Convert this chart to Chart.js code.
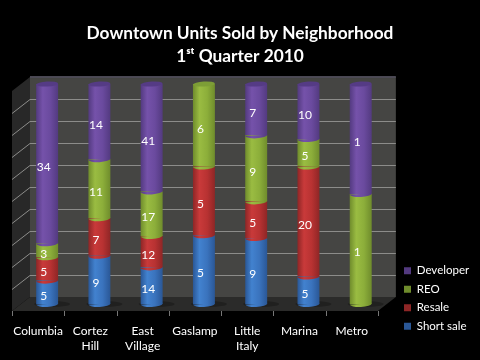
<!DOCTYPE html>
<html>
<head>
<meta charset="utf-8">
<title>Downtown Units Sold by Neighborhood</title>
<script src="https://cdn.jsdelivr.net/npm/chart.js@4"></script>
<style>
html, body { margin: 0; padding: 0; background: #000; }
#wrap { width: 480px; height: 360px; }
</style>
</head>
<body>
<div id="wrap"><canvas id="units"></canvas></div>
<script>
// values
const neighborhoods = ['Columbia', ['Cortez', 'Hill'], ['East', 'Village'], 'Gaslamp', ['Little', 'Italy'], 'Marina', 'Metro'];
const shortSale = [5, 9, 14, 5, 9, 5, 0];
const resale = [5, 7, 12, 5, 5, 20, 0];
const reo = [3, 11, 17, 6, 9, 5, 1];
const developer = [34, 14, 41, 0, 7, 10, 1];
const percentTicks = [0, 10, 20, 30, 40, 50, 60, 70, 80, 90, 100];

const allSeries = [shortSale, resale, reo, developer];
const names = ['Short sale', 'Resale', 'REO', 'Developer'];
const colors = ['#3a73bd', '#b83232', '#8cae3a', '#6a4a9e'];
const darker = ['#2a5796', '#8e2626', '#6f8c2c', '#533a80'];
const lighter = ['#4282cf', '#c93a3a', '#9abc42', '#7552aa'];
const capColors = ['#2f5f9e', '#962a2a', '#7d9e36', '#553b85'];

// depth of the fake 3d box
const depthX = 9;
const depthY = 7;

function shareOf(series, i) {
    const total = allSeries.reduce((sum, s) => sum + s[i], 0);
    return series[i] / total * 100;
}

// cylinder shading, one gradient per bar
function cylinderFill(context, s) {
    if (context.type !== 'data' || !context.chart.scales.x) return colors[s];
    const c = context.chart.scales.x.getPixelForValue(context.dataIndex);
    if (!Number.isFinite(c)) return colors[s];
    const g = context.chart.ctx.createLinearGradient(c - 11, 0, c + 11, 0);
    g.addColorStop(0, darker[s]);
    g.addColorStop(0.3, lighter[s]);
    g.addColorStop(0.65, colors[s]);
    g.addColorStop(1, darker[s]);
    return g;
}

const boxPlugin = {
    id: 'box',
    afterLayout(chart) {
        // legend sits low, next to the floor
        chart.legend.left = 397;
        chart.legend.bottom = 339;
    },
    beforeDatasetsDraw(chart) {
        const ctx = chart.ctx;
        const a = chart.chartArea;
        const y = chart.scales.y;
        const x = chart.scales.x;
        const floorBack = y.getPixelForValue(0) - depthY;
        const floorFront = y.getPixelForValue(0) + depthY;
        const wallTop = y.getPixelForValue(100) - depthY;

        ctx.save();
        // back wall
        ctx.fillStyle = '#454543';
        ctx.fillRect(a.left + depthX, wallTop, a.width, floorBack - wallTop);
        // side wall
        ctx.fillStyle = '#282828';
        ctx.beginPath();
        ctx.moveTo(a.left + depthX, wallTop);
        ctx.lineTo(a.left - depthX, wallTop + depthY * 2);
        ctx.lineTo(a.left - depthX, floorFront);
        ctx.lineTo(a.left + depthX, floorBack);
        ctx.fill();
        // floor
        ctx.fillStyle = '#2b2b2a';
        ctx.beginPath();
        ctx.moveTo(a.left + depthX, floorBack);
        ctx.lineTo(a.right + depthX, floorBack);
        ctx.lineTo(a.right - depthX, floorFront);
        ctx.lineTo(a.left - depthX, floorFront);
        ctx.fill();
        // top edge of the wall
        ctx.fillStyle = '#4c4a55';
        ctx.fillRect(a.left + depthX, wallTop - 1, a.width, 2);

        // grid lines
        ctx.strokeStyle = '#8c8c8a';
        ctx.lineWidth = 1;
        percentTicks.forEach(v => {
            if (v === 0 || v === 100) return;
            const py = Math.round(y.getPixelForValue(v) - depthY) + 0.5;
            ctx.beginPath();
            ctx.moveTo(a.right + depthX, py);
            ctx.lineTo(a.left + depthX, py);
            ctx.lineTo(a.left - depthX, py + depthY * 2);
            ctx.stroke();
        });

        // ticks under the front of the floor
        ctx.strokeStyle = '#777';
        for (let i = 0; i <= neighborhoods.length; i++) {
            const px = Math.round(a.left - depthX + i * a.width / neighborhoods.length) + 0.5;
            ctx.beginPath();
            ctx.moveTo(px, floorFront);
            ctx.lineTo(px, floorFront + 5);
            ctx.stroke();
        }

        // shadows on the floor
        ctx.fillStyle = 'rgba(0,0,0,0.25)';
        neighborhoods.forEach((n, i) => {
            ctx.beginPath();
            ctx.ellipse(x.getPixelForValue(i) + 5, y.getPixelForValue(0), 18, 3, 0, 0, Math.PI * 2);
            ctx.fill();
        });
        ctx.restore();
    },
    afterDatasetsDraw(chart) {
        const ctx = chart.ctx;
        ctx.save();
        // rounded bottoms of the segments, then the cap on top
        allSeries.forEach((series, s) => {
            chart.getDatasetMeta(s).data.forEach((bar, i) => {
                if (!series[i]) return;
                ctx.fillStyle = bar.options.backgroundColor;
                ctx.beginPath();
                ctx.ellipse(bar.x, bar.base, bar.width / 2, 3, -0.05, 0, Math.PI);
                ctx.fill();
                const isTop = allSeries.slice(s + 1).every(other => !other[i]);
                if (isTop) {
                    ctx.fillStyle = capColors[s];
                    ctx.beginPath();
                    ctx.ellipse(bar.x, bar.y, bar.width / 2, 2.5, -0.05, 0, Math.PI * 2);
                    ctx.fill();
                }
            });
        });
        // value labels
        ctx.fillStyle = '#fff';
        ctx.font = '12px Lato';
        ctx.textAlign = 'center';
        ctx.textBaseline = 'middle';
        allSeries.forEach((series, s) => {
            chart.getDatasetMeta(s).data.forEach((bar, i) => {
                if (!series[i]) return;
                ctx.fillText(series[i], bar.x - 3.5, (bar.y + bar.base) / 2 + 3.5);
            });
        });
        ctx.restore();
    }
};

new Chart(document.getElementById('units'), {
    type: 'bar',
    data: {
        labels: neighborhoods,
        datasets: allSeries.map((series, s) => ({
            label: names[s],
            data: neighborhoods.map((n, i) => shareOf(series, i)),
            backgroundColor: context => cylinderFill(context, s),
            borderWidth: 0,
            barPercentage: 0.42,
            categoryPercentage: 1
        }))
    },
    options: {
        responsive: true,
        maintainAspectRatio: false,
        animation: false,
        events: [],
        layout: { padding: 0 },
        scales: {
            x: {
                stacked: true,
                grid: { display: false },
                border: { display: false },
                ticks: {
                    color: '#fff',
                    font: { family: 'Lato', size: 12, lineHeight: 1.25 },
                    padding: 12,
                    labelOffset: -9,
                    maxRotation: 0,
                    autoSkip: false
                },
                afterFit(scale) {
                    scale.height = 56;
                    scale.paddingLeft = 21;
                    scale.paddingRight = 0;
                }
            },
            y: {
                stacked: true,
                position: 'right',
                min: 0,
                max: 100,
                grid: { display: false },
                border: { display: false },
                ticks: { display: false, stepSize: 10 },
                afterFit(scale) { scale.width = 11; }
            }
        },
        plugins: {
            title: {
                display: true,
                text: ['Downtown Units Sold by Neighborhood', '1ˢᵗ Quarter 2010'],
                color: '#fff',
                font: { family: 'Lato', size: 17.3, weight: 'bold', lineHeight: 1.33 },
                padding: { top: 22, bottom: 16 }
            },
            legend: {
                position: 'right',
                align: 'end',
                reverse: true,
                labels: {
                    color: '#fff',
                    font: { family: 'Lato', size: 11.5 },
                    boxWidth: 7,
                    boxHeight: 7,
                    padding: 7
                }
            },
            tooltip: { enabled: false }
        }
    },
    plugins: [boxPlugin]
});
</script>
</body>
</html>
